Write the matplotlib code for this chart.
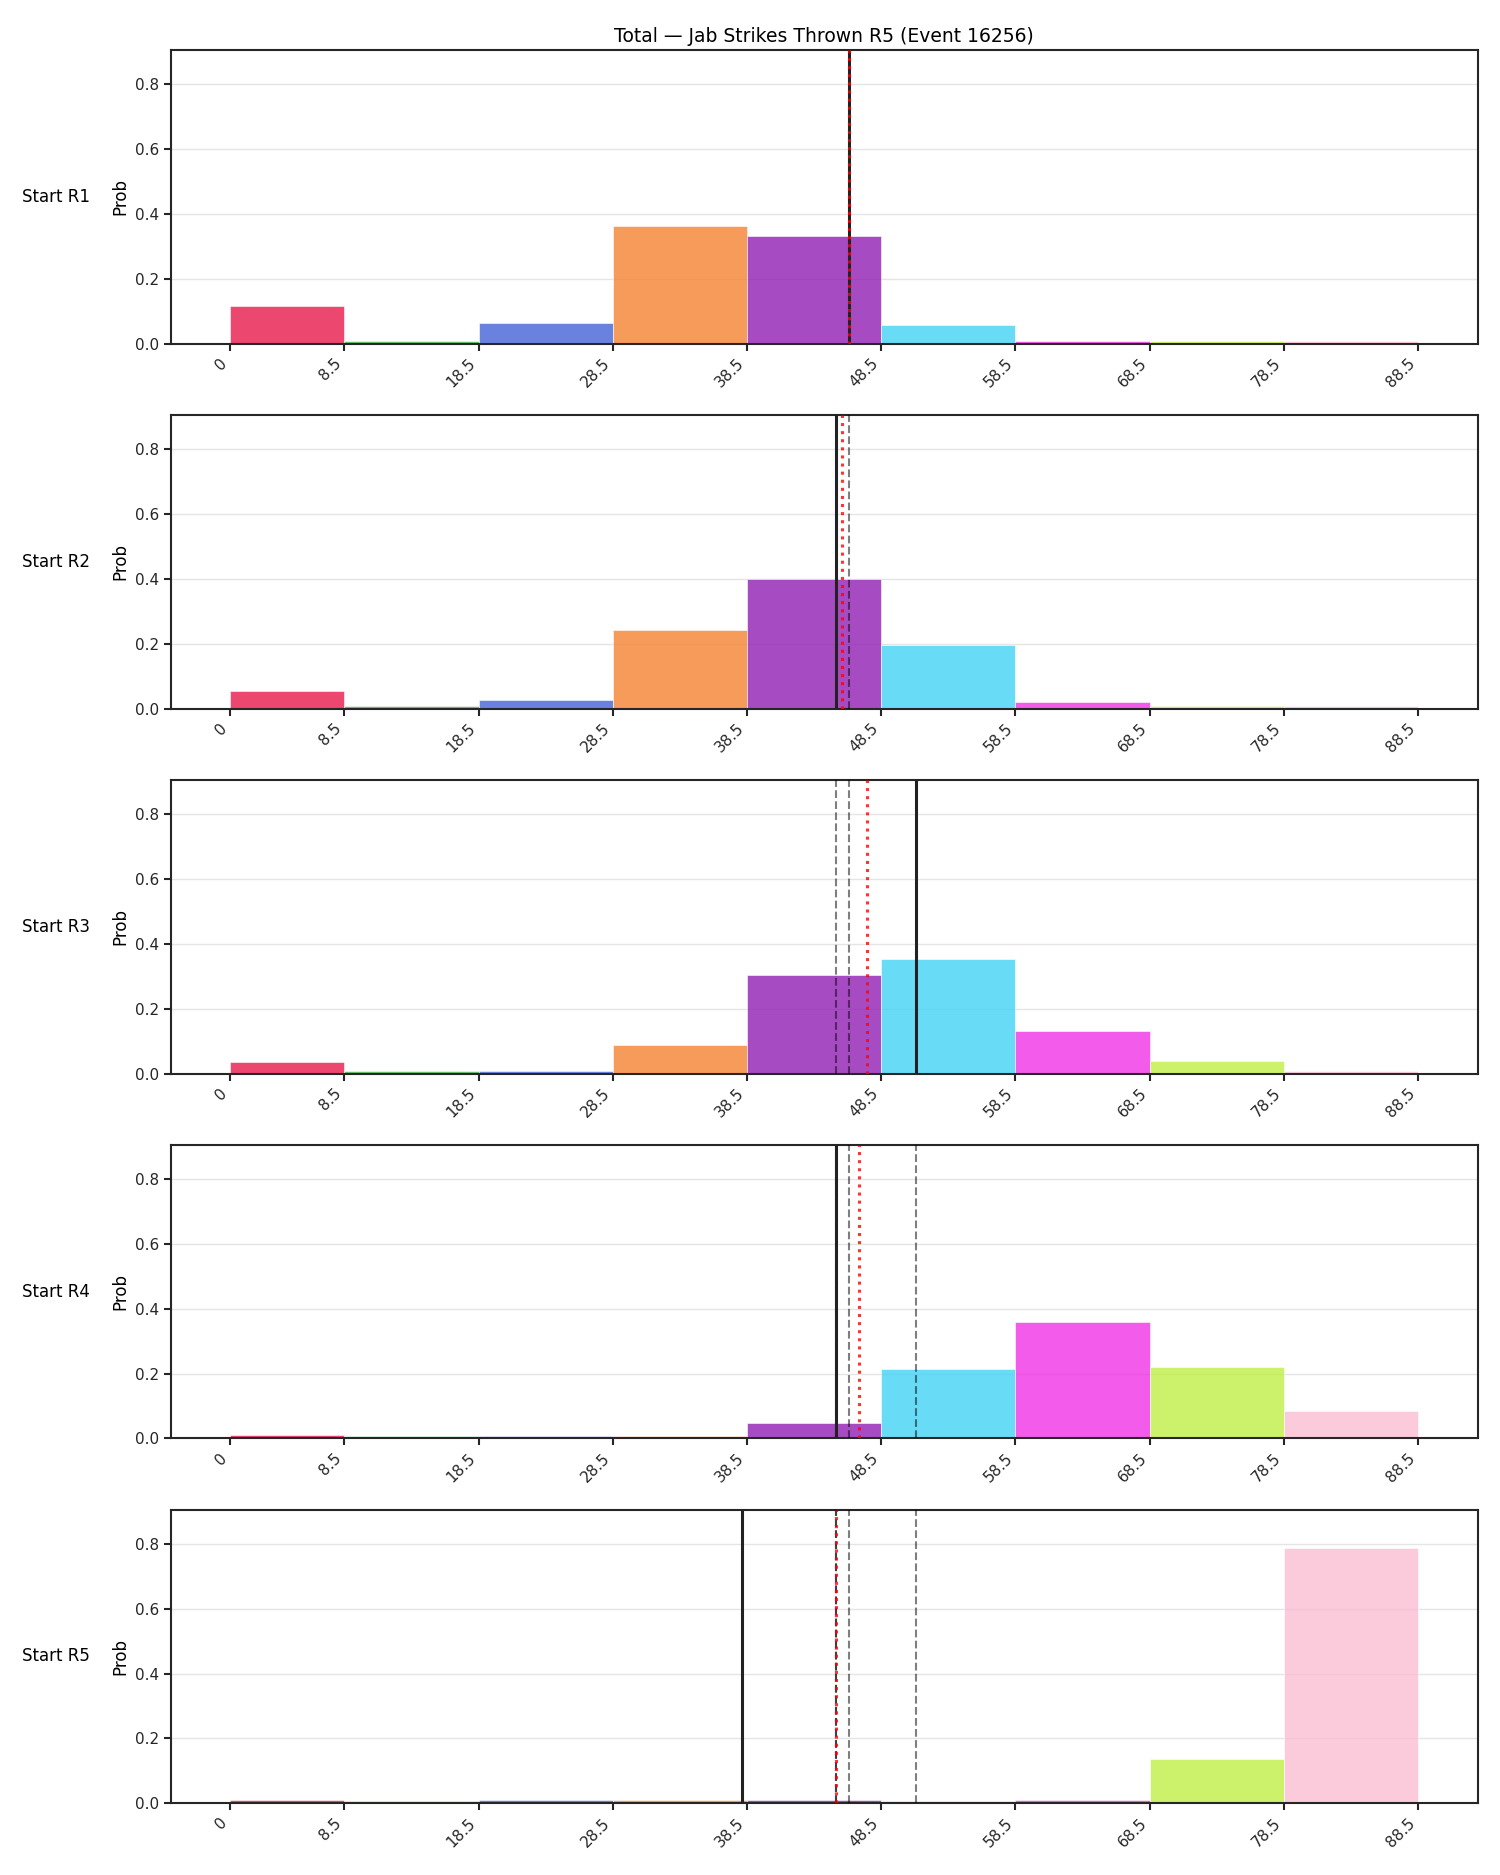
"""Per-round projected distribution of total jab strikes thrown."""

import matplotlib
matplotlib.use("Agg")
import matplotlib.pyplot as plt

bin_edges = [0, 8.5, 18.5, 28.5, 38.5, 48.5, 58.5, 68.5, 78.5, 88.5]
bin_colors = ['#e6194b', '#3cb44b', '#4363d8', '#f58231', '#911eb4',
              '#42d4f4', '#f032e6', '#bfef45', '#fabed4']

row_labels = ['Start R1', 'Start R2', 'Start R3', 'Start R4', 'Start R5']

# probability per bin, one list per round start
probs_r1 = [0.118, 0.010, 0.063, 0.364, 0.331, 0.057, 0.010, 0.009, 0.008]
probs_r2 = [0.054, 0.009, 0.028, 0.243, 0.400, 0.197, 0.022, 0.009, 0.007]
probs_r3 = [0.036, 0.009, 0.009, 0.087, 0.305, 0.353, 0.132, 0.040, 0.007]
probs_r4 = [0.012, 0.009, 0.009, 0.009, 0.047, 0.214, 0.359, 0.220, 0.084]
probs_r5 = [0.009, 0.008, 0.009, 0.009, 0.010, 0.008, 0.009, 0.137, 0.786]
all_probs = [probs_r1, probs_r2, probs_r3, probs_r4, probs_r5]

# projected mean at each round start, and running average of those
round_means = [46.06, 45.12, 51.10, 45.13, 38.11]
running_avg = [46.06, 45.58, 47.45, 46.85, 45.10]

title = 'Total \u2014 Jab Strikes Thrown R5 (Event 16256)'

plt.rcParams['font.family'] = 'DejaVu Sans'
plt.rcParams['axes.edgecolor'] = '#262626'
plt.rcParams['axes.linewidth'] = 1.5
plt.rcParams['xtick.color'] = '#262626'
plt.rcParams['ytick.color'] = '#262626'
plt.rcParams['xtick.major.width'] = 1.5
plt.rcParams['ytick.major.width'] = 1.5
plt.rcParams['xtick.major.size'] = 5
plt.rcParams['ytick.major.size'] = 5

fig, axes = plt.subplots(5, 1, figsize=(15, 18.75), dpi=100)
fig.subplots_adjust(left=0.114, right=0.985, top=0.9733, bottom=0.0382,
                    hspace=0.242)

lefts = bin_edges[:-1]
widths = [b - a for a, b in zip(bin_edges[:-1], bin_edges[1:])]

for i, (ax, probs) in enumerate(zip(axes, all_probs)):
    ax.bar(lefts, probs, width=widths, align='edge', color=bin_colors,
           alpha=0.8, edgecolor='white', linewidth=0.5, zorder=2)
    # earlier rounds' means as faint dashed lines
    for m in round_means[:i]:
        ax.axvline(m, color='black', alpha=0.5, linestyle='--',
                   linewidth=1.5, zorder=3)
    ax.axvline(round_means[i], color='#222222', linewidth=2.2, zorder=4)
    ax.axvline(running_avg[i], color='red', alpha=0.8, linestyle=':',
               linewidth=2.2, zorder=5)

    ax.set_ylim(0, 0.905)
    ax.set_xticks(bin_edges)
    ax.set_xticklabels([f'{e:g}' for e in bin_edges], rotation=45,
                       ha='right', fontsize=11)
    ax.tick_params(axis='y', labelsize=11)
    ax.grid(axis='y', color='#e5e5e5', linewidth=1, zorder=0)
    ax.set_axisbelow(True)
    ax.set_ylabel('Prob', fontsize=12)
    ax.text(-0.062, 0.5, row_labels[i], transform=ax.transAxes,
            ha='right', va='center', fontsize=12)

axes[0].set_title(title, fontsize=13.5)

fig.savefig('out.png', dpi=100)
